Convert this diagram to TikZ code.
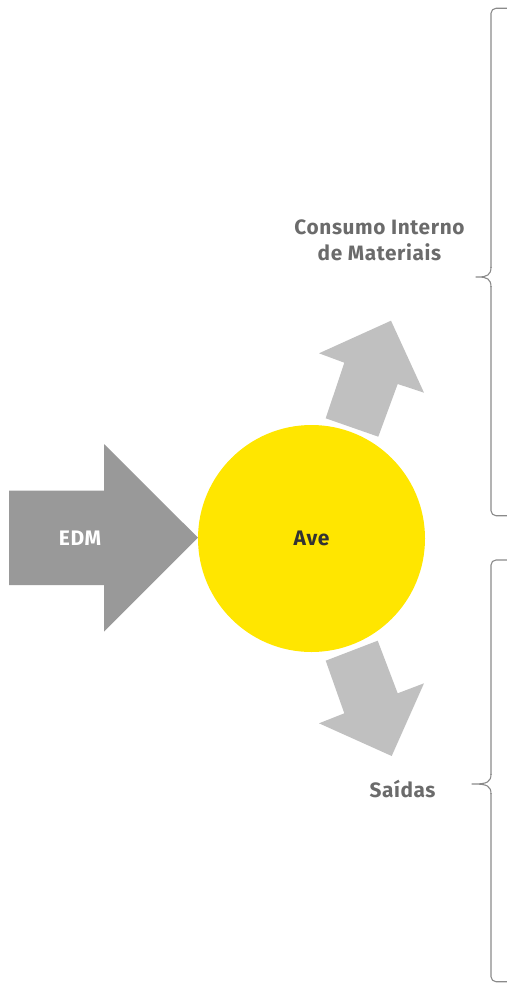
\documentclass[tikz,border=0pt]{standalone}
\usepackage{fontspec}
\setmainfont{Fira Sans}
\newfontfamily\lblfont[LetterSpace=3]{Fira Sans}
\definecolor{eyyellow}{HTML}{FFE600}
\definecolor{darkarrow}{HTML}{999999}
\definecolor{lightarrow}{HTML}{C0C0C0}
\definecolor{labelgray}{HTML}{6B6B6B}
\definecolor{bracegray}{HTML}{8A8A8A}
\definecolor{avetext}{HTML}{333333}
\tikzset{
  lbl/.style={font=\lblfont\bfseries\fontsize{20.8}{26}\selectfont, text=labelgray, align=center, inner sep=0pt},
  inlbl/.style={font=\lblfont\bfseries\fontsize{21}{22}\selectfont, inner sep=0pt},
  bracestyle/.style={draw=bracegray, line width=1.1pt, line join=round, rounded corners=5pt},
}
\begin{document}
\begin{tikzpicture}[x=1pt,y=-1pt]
\useasboundingbox (0,0) rectangle (506,984);
% EDM arrow
\fill[darkarrow] (9,490.7) -- (104,490.7) -- (104,444) -- (198,537.7) -- (104,631.7) -- (104,585) -- (9,585) -- cycle;
\node[inlbl, text=white] (edm) at (80,538) {EDM};
% circle
\fill[eyyellow] (311.5,538.5) circle (113.5);
\node[inlbl, text=avetext] (ave) at (311.5,538.5) {Ave};
% upper arrow
\fill[lightarrow] (319,353.3) -- (391,320.7) -- (424,392.7) -- (397.7,384) -- (378.3,436.7) -- (325.7,418.3) -- (344.3,362.7) -- cycle;
% lower arrow
\fill[lightarrow] (325.7,660.7) -- (377.7,640.7) -- (397.7,693.3) -- (424,683.3) -- (391.7,756) -- (319,723.3) -- (344.3,713.3) -- cycle;
% labels
\node[lbl] (cim) at (379.5,240.5) {Consumo Interno\\de Materiais};
\node[lbl] (said) at (402.5,789) {Saídas};
% upper brace
\draw[bracestyle] (507,8.3) -| (491,268);
\draw[bracestyle] (491,267) .. controls (491,275) and (487,277) .. (473,277)
  .. controls (487,277) and (491,279) .. (491,287);
\draw[bracestyle] (491,286) |- (507,515.7);
% lower brace
\draw[bracestyle] (507,560) -| (491,775);
\draw[bracestyle] (491,774) .. controls (491,782) and (487,784) .. (469,784)
  .. controls (487,784) and (491,786) .. (491,794);
\draw[bracestyle] (491,793) |- (507,981.7);
\end{tikzpicture}
\end{document}
